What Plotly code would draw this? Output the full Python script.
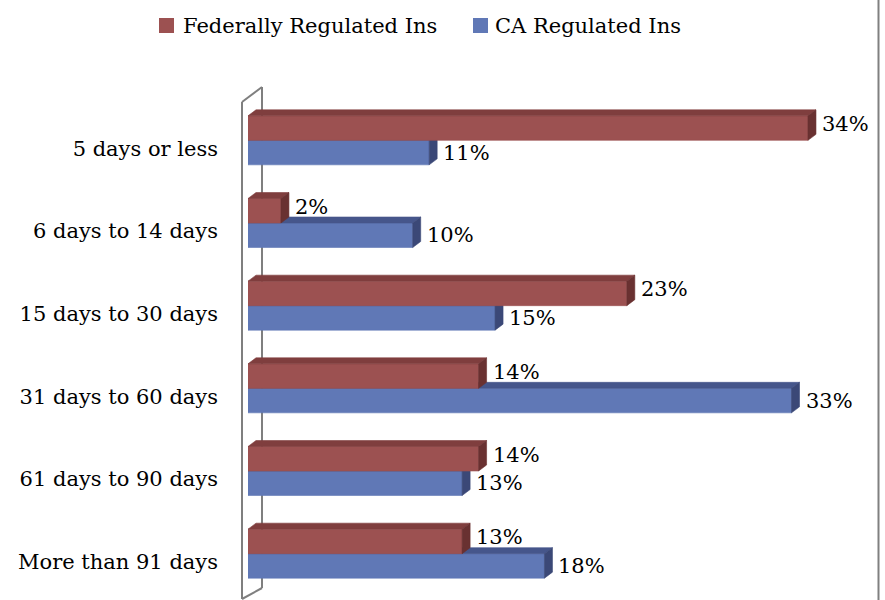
import plotly.graph_objects as go

# Days to resolve, share of complaints by regulator
categories = ["5 days or less", "6 days to 14 days", "15 days to 30 days",
              "31 days to 60 days", "61 days to 90 days", "More than 91 days"]
federal = [34, 2, 23, 14, 14, 13]
ca = [11, 10, 15, 33, 13, 18]
series_names = ["Federally Regulated Ins", "CA Regulated Ins"]

FONT = "DejaVu Serif"
FS = 21

# canvas geometry
W, H = 885, 600
ML, MR, MT, MB = 248, 15, 99, 5
PW, PH = W - ML - MR, H - MT - MB
PX_PER_PCT = 16.47
XMAX = PW / PX_PER_PCT
N = len(categories)
PX_PER_CAT = PH / N

BAR_H = 24.5 / PX_PER_CAT          # bar thickness in category units
DX = 8 / PX_PER_PCT                # depth offset, x
DY = 6 / PX_PER_CAT                # depth offset, y (upwards)

RED = dict(front="#9c5151", top="#7f3e3e", side="#693131")
BLUE = dict(front="#6078b6", top="#46568b", side="#3b4877")


def poly_traces(vals, offset, col):
    fx, fy, tx, ty, sx, sy = [], [], [], [], [], []
    for i, v in enumerate(vals):
        y0 = i + offset            # upper edge on screen
        y1 = y0 + BAR_H            # lower edge on screen
        fx += [0, v, v, 0, 0, None]
        fy += [y0, y0, y1, y1, y0, None]
        tx += [0, v, v + DX, DX, 0, None]
        ty += [y0, y0, y0 - DY, y0 - DY, y0, None]
        sx += [v, v + DX, v + DX, v, v, None]
        sy += [y0, y0 - DY, y1 - DY, y1, y0, None]
    out = []
    for xs, ys, c in ((fx, fy, col["front"]), (tx, ty, col["top"]), (sx, sy, col["side"])):
        out.append(go.Scatter(x=xs, y=ys, mode="lines", fill="toself", fillcolor=c,
                              line=dict(width=0.6, color=c), hoverinfo="skip",
                              showlegend=False))
    return out


fig = go.Figure()
# lower series first so the upper bar covers its top face
for t in poly_traces(ca, 0, BLUE):
    fig.add_trace(t)
for t in poly_traces(federal, -BAR_H, RED):
    fig.add_trace(t)

# value labels
for vals, off, ys in ((federal, -BAR_H / 2, 4), (ca, BAR_H / 2, 0)):
    for i, v in enumerate(vals):
        fig.add_annotation(x=v + DX, y=i + off, text=f"{v}%", showarrow=False,
                           xanchor="left", yanchor="middle", xshift=4, yshift=ys,
                           font=dict(family=FONT, size=FS, color="black"))


def px_x(px):
    return (px - ML) / PW


def px_y(py):
    return 1 - (py - MT) / PH


# legend: swatch + name
legend_items = [(159, 181, RED["front"], series_names[0]),
                (473, 493, BLUE["front"], series_names[1])]
for sx, tx, c, name in legend_items:
    fig.add_shape(type="rect", xref="paper", yref="paper", layer="above",
                  x0=px_x(sx), x1=px_x(sx + 15), y0=px_y(33), y1=px_y(18),
                  fillcolor=c, line=dict(width=0))
    fig.add_annotation(xref="paper", yref="paper", x=px_x(tx), y=px_y(25.5),
                       xanchor="left", yanchor="middle", showarrow=False, text=name,
                       font=dict(family=FONT, size=FS, color="black"))

wall = dict(color="#7f7f7f", width=2)
for (x0, y0, x1, y1) in [(242, 102, 242, 599), (262, 87, 262, 588),
                         (242, 102, 262, 87), (242, 599, 262, 588)]:
    fig.add_shape(type="line", xref="paper", yref="paper", layer="below",
                  x0=px_x(x0), y0=px_y(y0), x1=px_x(x1), y1=px_y(y1), line=wall)
# chart border on the right
fig.add_shape(type="line", xref="paper", yref="paper", layer="above",
              x0=px_x(878.5), x1=px_x(878.5), y0=px_y(0), y1=px_y(600),
              line=dict(color="#808080", width=2))

fig.update_layout(
    width=W, height=H,
    margin=dict(l=ML, r=MR, t=MT, b=MB),
    paper_bgcolor="white", plot_bgcolor="white",
    font=dict(family=FONT, size=FS, color="black"),
    showlegend=False,
    xaxis=dict(range=[0, XMAX], visible=False, fixedrange=True),
    yaxis=dict(range=[N - 0.5, -0.5], tickvals=list(range(N)), ticktext=categories,
               showgrid=False, zeroline=False, showline=False, ticks="",
               ticklabelstandoff=29, ticklabelshift=-8,
               tickfont=dict(family=FONT, size=FS, color="black")),
)

fig.write_html("out.html")
